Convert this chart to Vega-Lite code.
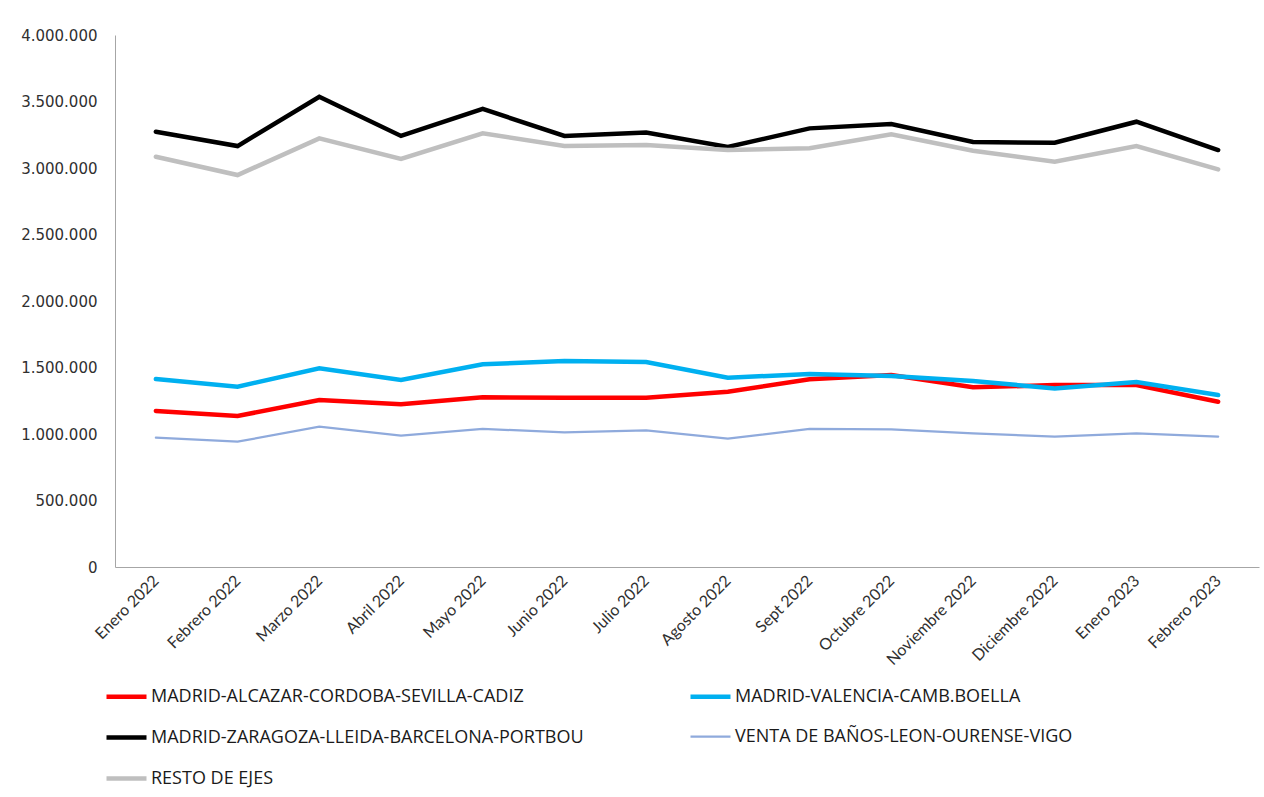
{
  "$schema": "https://vega.github.io/schema/vega-lite/v6.json",
  "autosize": {"type": "none"},
  "width": 1144,
  "height": 532,
  "padding": {"left": 115, "top": 35, "right": 5, "bottom": 230},
  "background": "white",
  "config": {
    "locale": {"number": {"decimal": ",", "thousands": ".", "grouping": [3], "currency": ["", " €"]}},
    "view": {"stroke": null},
    "axis": {"grid": false, "ticks": false, "domainColor": "#A6A6A6", "domainWidth": 1, "title": null}
  },
  "data": {"values": [
    {"month": "Enero 2022", "series": "MADRID-ALCAZAR-CORDOBA-SEVILLA-CADIZ", "value": 1173000},
    {"month": "Febrero 2022", "series": "MADRID-ALCAZAR-CORDOBA-SEVILLA-CADIZ", "value": 1135000},
    {"month": "Marzo 2022", "series": "MADRID-ALCAZAR-CORDOBA-SEVILLA-CADIZ", "value": 1256000},
    {"month": "Abril 2022", "series": "MADRID-ALCAZAR-CORDOBA-SEVILLA-CADIZ", "value": 1223000},
    {"month": "Mayo 2022", "series": "MADRID-ALCAZAR-CORDOBA-SEVILLA-CADIZ", "value": 1276000},
    {"month": "Junio 2022", "series": "MADRID-ALCAZAR-CORDOBA-SEVILLA-CADIZ", "value": 1273000},
    {"month": "Julio 2022", "series": "MADRID-ALCAZAR-CORDOBA-SEVILLA-CADIZ", "value": 1273000},
    {"month": "Agosto 2022", "series": "MADRID-ALCAZAR-CORDOBA-SEVILLA-CADIZ", "value": 1318000},
    {"month": "Sept 2022", "series": "MADRID-ALCAZAR-CORDOBA-SEVILLA-CADIZ", "value": 1411000},
    {"month": "Octubre 2022", "series": "MADRID-ALCAZAR-CORDOBA-SEVILLA-CADIZ", "value": 1444000},
    {"month": "Noviembre 2022", "series": "MADRID-ALCAZAR-CORDOBA-SEVILLA-CADIZ", "value": 1351000},
    {"month": "Diciembre 2022", "series": "MADRID-ALCAZAR-CORDOBA-SEVILLA-CADIZ", "value": 1368000},
    {"month": "Enero 2023", "series": "MADRID-ALCAZAR-CORDOBA-SEVILLA-CADIZ", "value": 1368000},
    {"month": "Febrero 2023", "series": "MADRID-ALCAZAR-CORDOBA-SEVILLA-CADIZ", "value": 1243000},
    {"month": "Enero 2022", "series": "MADRID-VALENCIA-CAMB.BOELLA", "value": 1413000},
    {"month": "Febrero 2022", "series": "MADRID-VALENCIA-CAMB.BOELLA", "value": 1356000},
    {"month": "Marzo 2022", "series": "MADRID-VALENCIA-CAMB.BOELLA", "value": 1494000},
    {"month": "Abril 2022", "series": "MADRID-VALENCIA-CAMB.BOELLA", "value": 1406000},
    {"month": "Mayo 2022", "series": "MADRID-VALENCIA-CAMB.BOELLA", "value": 1524000},
    {"month": "Junio 2022", "series": "MADRID-VALENCIA-CAMB.BOELLA", "value": 1549000},
    {"month": "Julio 2022", "series": "MADRID-VALENCIA-CAMB.BOELLA", "value": 1541000},
    {"month": "Agosto 2022", "series": "MADRID-VALENCIA-CAMB.BOELLA", "value": 1423000},
    {"month": "Sept 2022", "series": "MADRID-VALENCIA-CAMB.BOELLA", "value": 1451000},
    {"month": "Octubre 2022", "series": "MADRID-VALENCIA-CAMB.BOELLA", "value": 1436000},
    {"month": "Noviembre 2022", "series": "MADRID-VALENCIA-CAMB.BOELLA", "value": 1398000},
    {"month": "Diciembre 2022", "series": "MADRID-VALENCIA-CAMB.BOELLA", "value": 1343000},
    {"month": "Enero 2023", "series": "MADRID-VALENCIA-CAMB.BOELLA", "value": 1391000},
    {"month": "Febrero 2023", "series": "MADRID-VALENCIA-CAMB.BOELLA", "value": 1293000},
    {"month": "Enero 2022", "series": "MADRID-ZARAGOZA-LLEIDA-BARCELONA-PORTBOU", "value": 3273000},
    {"month": "Febrero 2022", "series": "MADRID-ZARAGOZA-LLEIDA-BARCELONA-PORTBOU", "value": 3165000},
    {"month": "Marzo 2022", "series": "MADRID-ZARAGOZA-LLEIDA-BARCELONA-PORTBOU", "value": 3536000},
    {"month": "Abril 2022", "series": "MADRID-ZARAGOZA-LLEIDA-BARCELONA-PORTBOU", "value": 3241000},
    {"month": "Mayo 2022", "series": "MADRID-ZARAGOZA-LLEIDA-BARCELONA-PORTBOU", "value": 3444000},
    {"month": "Junio 2022", "series": "MADRID-ZARAGOZA-LLEIDA-BARCELONA-PORTBOU", "value": 3241000},
    {"month": "Julio 2022", "series": "MADRID-ZARAGOZA-LLEIDA-BARCELONA-PORTBOU", "value": 3266000},
    {"month": "Agosto 2022", "series": "MADRID-ZARAGOZA-LLEIDA-BARCELONA-PORTBOU", "value": 3158000},
    {"month": "Sept 2022", "series": "MADRID-ZARAGOZA-LLEIDA-BARCELONA-PORTBOU", "value": 3298000},
    {"month": "Octubre 2022", "series": "MADRID-ZARAGOZA-LLEIDA-BARCELONA-PORTBOU", "value": 3331000},
    {"month": "Noviembre 2022", "series": "MADRID-ZARAGOZA-LLEIDA-BARCELONA-PORTBOU", "value": 3195000},
    {"month": "Diciembre 2022", "series": "MADRID-ZARAGOZA-LLEIDA-BARCELONA-PORTBOU", "value": 3190000},
    {"month": "Enero 2023", "series": "MADRID-ZARAGOZA-LLEIDA-BARCELONA-PORTBOU", "value": 3348000},
    {"month": "Febrero 2023", "series": "MADRID-ZARAGOZA-LLEIDA-BARCELONA-PORTBOU", "value": 3135000},
    {"month": "Enero 2022", "series": "VENTA DE BAÑOS-LEON-OURENSE-VIGO", "value": 972000},
    {"month": "Febrero 2022", "series": "VENTA DE BAÑOS-LEON-OURENSE-VIGO", "value": 942000},
    {"month": "Marzo 2022", "series": "VENTA DE BAÑOS-LEON-OURENSE-VIGO", "value": 1055000},
    {"month": "Abril 2022", "series": "VENTA DE BAÑOS-LEON-OURENSE-VIGO", "value": 987000},
    {"month": "Mayo 2022", "series": "VENTA DE BAÑOS-LEON-OURENSE-VIGO", "value": 1038000},
    {"month": "Junio 2022", "series": "VENTA DE BAÑOS-LEON-OURENSE-VIGO", "value": 1013000},
    {"month": "Julio 2022", "series": "VENTA DE BAÑOS-LEON-OURENSE-VIGO", "value": 1028000},
    {"month": "Agosto 2022", "series": "VENTA DE BAÑOS-LEON-OURENSE-VIGO", "value": 965000},
    {"month": "Sept 2022", "series": "VENTA DE BAÑOS-LEON-OURENSE-VIGO", "value": 1038000},
    {"month": "Octubre 2022", "series": "VENTA DE BAÑOS-LEON-OURENSE-VIGO", "value": 1035000},
    {"month": "Noviembre 2022", "series": "VENTA DE BAÑOS-LEON-OURENSE-VIGO", "value": 1005000},
    {"month": "Diciembre 2022", "series": "VENTA DE BAÑOS-LEON-OURENSE-VIGO", "value": 980000},
    {"month": "Enero 2023", "series": "VENTA DE BAÑOS-LEON-OURENSE-VIGO", "value": 1005000},
    {"month": "Febrero 2023", "series": "VENTA DE BAÑOS-LEON-OURENSE-VIGO", "value": 980000},
    {"month": "Enero 2022", "series": "RESTO DE EJES", "value": 3085000},
    {"month": "Febrero 2022", "series": "RESTO DE EJES", "value": 2947000},
    {"month": "Marzo 2022", "series": "RESTO DE EJES", "value": 3223000},
    {"month": "Abril 2022", "series": "RESTO DE EJES", "value": 3068000},
    {"month": "Mayo 2022", "series": "RESTO DE EJES", "value": 3261000},
    {"month": "Junio 2022", "series": "RESTO DE EJES", "value": 3165000},
    {"month": "Julio 2022", "series": "RESTO DE EJES", "value": 3173000},
    {"month": "Agosto 2022", "series": "RESTO DE EJES", "value": 3135000},
    {"month": "Sept 2022", "series": "RESTO DE EJES", "value": 3148000},
    {"month": "Octubre 2022", "series": "RESTO DE EJES", "value": 3253000},
    {"month": "Noviembre 2022", "series": "RESTO DE EJES", "value": 3130000},
    {"month": "Diciembre 2022", "series": "RESTO DE EJES", "value": 3047000},
    {"month": "Enero 2023", "series": "RESTO DE EJES", "value": 3165000},
    {"month": "Febrero 2023", "series": "RESTO DE EJES", "value": 2990000}
  ]},
  "mark": {"type": "line", "strokeJoin": "miter", "strokeCap": "round"},
  "encoding": {
    "x": {
      "field": "month", "type": "nominal",
      "scale": {"type": "point", "padding": 0.5, "domain": ["Enero 2022", "Febrero 2022", "Marzo 2022", "Abril 2022", "Mayo 2022", "Junio 2022", "Julio 2022", "Agosto 2022", "Sept 2022", "Octubre 2022", "Noviembre 2022", "Diciembre 2022", "Enero 2023", "Febrero 2023"]},
      "axis": {"labelAngle": -45, "labelAlign": "right", "labelBaseline": "middle", "labelPadding": 11, "labelFont": "Lato", "labelFontSize": 16, "labelColor": "#303030"}
    },
    "y": {
      "field": "value", "type": "quantitative",
      "scale": {"domain": [0, 4000000], "nice": false},
      "axis": {"values": [0, 500000, 1000000, 1500000, 2000000, 2500000, 3000000, 3500000, 4000000], "format": ",d", "labelFont": "DejaVu Sans", "labelFontSize": 15, "labelColor": "#303030", "labelPadding": 18}
    },
    "color": {
      "field": "series", "type": "nominal", "title": null,
      "scale": {
        "domain": ["MADRID-ALCAZAR-CORDOBA-SEVILLA-CADIZ", "MADRID-VALENCIA-CAMB.BOELLA", "MADRID-ZARAGOZA-LLEIDA-BARCELONA-PORTBOU", "VENTA DE BAÑOS-LEON-OURENSE-VIGO", "RESTO DE EJES"],
        "range": ["#FF0000", "#00B0F0", "#000000", "#8FAADC", "#BFBFBF"]
      },
      "legend": {
        "orient": "none", "legendX": -11, "legendY": 639, "direction": "horizontal", "columns": 2,
        "columnPadding": 97, "rowPadding": 9, "symbolType": "stroke", "symbolSize": 1600,
        "labelFont": "Open Sans", "labelFontSize": 18, "labelColor": "#1a1a1a", "labelLimit": 700, "labelOffset": 2
      }
    },
    "strokeWidth": {
      "field": "series", "type": "nominal", "title": null,
      "scale": {
        "type": "ordinal",
        "domain": ["MADRID-ALCAZAR-CORDOBA-SEVILLA-CADIZ", "MADRID-VALENCIA-CAMB.BOELLA", "MADRID-ZARAGOZA-LLEIDA-BARCELONA-PORTBOU", "VENTA DE BAÑOS-LEON-OURENSE-VIGO", "RESTO DE EJES"],
        "range": [4.5, 4.5, 4.5, 2.25, 4.5]
      }
    }
  }
}
